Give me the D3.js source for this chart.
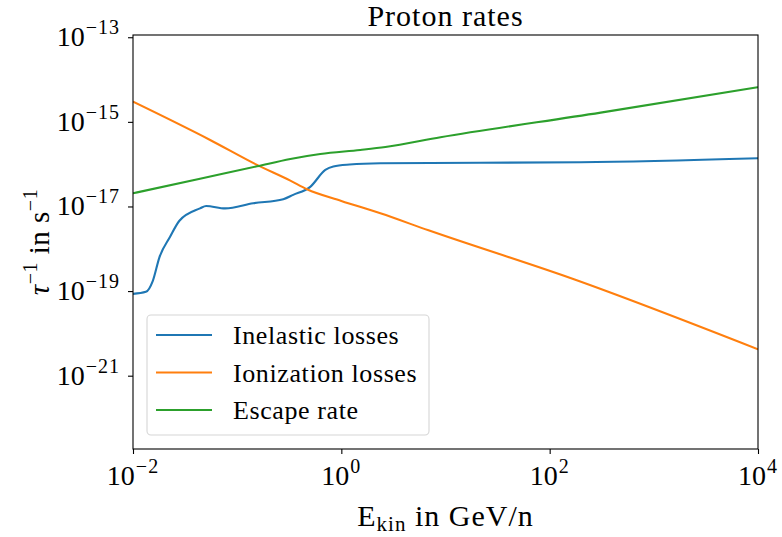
<!DOCTYPE html>
<html>
<head>
<meta charset="utf-8">
<script src="https://cdn.jsdelivr.net/npm/d3@7"></script>
<style>
  body { margin: 0; background: #fff; }
  svg text { font-family: "Liberation Serif", "DejaVu Serif", serif; fill: #000; }
</style>
</head>
<body>
<svg id="chart" width="782" height="537"></svg>
<script>
// Data
const energyInelastic = [0.01, 0.0133, 0.0155, 0.0179, 0.0227, 0.0279, 0.044, 0.0503, 0.0767, 0.1426, 0.277, 0.345, 0.503, 0.702, 0.838, 1.2, 2.37, 199, 1e4];
const rateInelastic = [8.6e-20, 9.6e-20, 1.75e-19, 6.2e-19, 1.92e-18, 4.6e-18, 9.0e-18, 1.03e-17, 9.0e-18, 1.19e-17, 1.49e-17, 1.88e-17, 2.91e-17, 7.3e-17, 8.8e-17, 9.8e-17, 1.05e-16, 1.11e-16, 1.38e-16];

const energyIonization = [0.01, 0.055, 0.155, 0.324, 0.468, 1.0, 2.37, 6.87, 171, 1e4];
const rateIonization = [3.0e-15, 3.73e-16, 9.6e-17, 4.07e-17, 2.55e-17, 1.35e-17, 6.9e-18, 2.73e-18, 1.9e-19, 4.2e-21];

const energyEscape = [0.01, 0.044, 0.155, 0.324, 0.628, 1.52, 2.65, 8.95, 309, 1e4];
const rateEscape = [2.05e-17, 4.54e-17, 8.9e-17, 1.33e-16, 1.74e-16, 2.17e-16, 2.55e-16, 4.33e-16, 1.65e-15, 6.6e-15];

const seriesNames = ["Inelastic losses", "Ionization losses", "Escape rate"];
const seriesColors = ["#1f77b4", "#ff7f0e", "#2ca02c"];

const xTicks = [1e-2, 1e0, 1e2, 1e4];
const xTickExp = ["−2", "0", "2", "4"];
const yTicks = [1e-13, 1e-15, 1e-17, 1e-19, 1e-21];
const yTickExp = ["−13", "−15", "−17", "−19", "−21"];

const svg = d3.select("#chart");
const plotLeft = 133, plotRight = 758, plotTop = 35, plotBottom = 449;

const x = d3.scaleLog().domain([1e-2, 1e4]).range([plotLeft, plotRight]);
const y = d3.scaleLog().domain([1.85e-23, 1.13e-13]).range([plotBottom, plotTop]);

// Lines
const line = d3.line()
    .x(d => x(d[0]))
    .y(d => y(d[1]))
    .curve(d3.curveMonotoneX);

const series = [
    d3.zip(energyInelastic, rateInelastic),
    d3.zip(energyIonization, rateIonization),
    d3.zip(energyEscape, rateEscape)
];

svg.append("defs").append("clipPath").attr("id", "clip")
    .append("rect").attr("x", plotLeft).attr("y", plotTop)
    .attr("width", plotRight - plotLeft).attr("height", plotBottom - plotTop);

const plot = svg.append("g").attr("clip-path", "url(#clip)");
series.forEach((s, i) => {
    plot.append("path")
        .datum(s)
        .attr("fill", "none")
        .attr("stroke", seriesColors[i])
        .attr("stroke-width", 2.1)
        .attr("stroke-linejoin", "round")
        .attr("d", line);
});

// Axes
const xAxis = svg.append("g")
    .attr("transform", `translate(0,${plotBottom})`)
    .call(d3.axisBottom(x).tickValues(xTicks).tickFormat(() => "").tickSize(5).tickSizeOuter(0));
const yAxis = svg.append("g")
    .attr("transform", `translate(${plotLeft},0)`)
    .call(d3.axisLeft(y).tickValues(yTicks).tickFormat(() => "").tickSize(5).tickSizeOuter(0));

[xAxis, yAxis].forEach(a => {
    a.select(".domain").remove();
    a.selectAll(".tick line").attr("stroke", "#000").attr("stroke-width", 1.1);
});

// Frame
svg.append("rect")
    .attr("x", plotLeft).attr("y", plotTop)
    .attr("width", plotRight - plotLeft).attr("height", plotBottom - plotTop)
    .attr("fill", "none").attr("stroke", "#000").attr("stroke-width", 1.1);

// Tick labels with superscripts
function powerLabel(sel, exp) {
    sel.append("tspan").text("10");
    sel.append("tspan").attr("font-size", 20).attr("dy", -12).attr("dx", 1)
        .attr("letter-spacing", 1).text(exp);
}

xTicks.forEach((t, i) => {
    const txt = svg.append("text")
        .attr("x", x(t))
        .attr("y", 485)
        .attr("text-anchor", "middle")
        .attr("font-size", 28);
    powerLabel(txt, xTickExp[i]);
});

yTicks.forEach((t, i) => {
    const txt = svg.append("text")
        .attr("x", 120)
        .attr("y", y(t) + 9)
        .attr("text-anchor", "end")
        .attr("font-size", 28);
    powerLabel(txt, yTickExp[i]);
});

// Title and axis labels
svg.append("text")
    .attr("x", (plotLeft + plotRight) / 2).attr("y", 26)
    .attr("text-anchor", "middle")
    .attr("font-size", 30)
    .attr("letter-spacing", 1)
    .text("Proton rates");

const xl = svg.append("text")
    .attr("x", (plotLeft + plotRight) / 2).attr("y", 526)
    .attr("text-anchor", "middle")
    .attr("font-size", 30)
    .attr("letter-spacing", 1);
xl.append("tspan").text("E");
xl.append("tspan").attr("font-size", 21).attr("dy", 5).text("kin");
xl.append("tspan").attr("dy", -5).text(" in GeV/n");

const yl = svg.append("text")
    .attr("transform", `translate(49,${(plotTop + plotBottom) / 2}) rotate(-90)`)
    .attr("text-anchor", "middle")
    .attr("font-size", 29)
    .attr("letter-spacing", 0.5);
yl.append("tspan").attr("font-style", "italic").text("τ");
yl.append("tspan").attr("font-size", 20).attr("dy", -12).text("−1");
yl.append("tspan").attr("dy", 12).text(" in s");
yl.append("tspan").attr("font-size", 20).attr("dy", -12).text("−1");

// Legend
const legend = svg.append("g");
legend.append("rect")
    .attr("x", 147).attr("y", 315)
    .attr("width", 282).attr("height", 120)
    .attr("rx", 4)
    .attr("fill", "#fff").attr("fill-opacity", 0.8)
    .attr("stroke", "#d6d6d6").attr("stroke-width", 1.1);

seriesNames.forEach((name, i) => {
    const ly = 335 + i * 37.5;
    legend.append("line")
        .attr("x1", 156).attr("x2", 212)
        .attr("y1", ly).attr("y2", ly)
        .attr("stroke", seriesColors[i]).attr("stroke-width", 2.1);
    legend.append("text")
        .attr("x", 233).attr("y", ly + 9)
        .attr("font-size", 26)
        .attr("letter-spacing", 0.6)
        .text(name);
});
</script>
</body>
</html>
